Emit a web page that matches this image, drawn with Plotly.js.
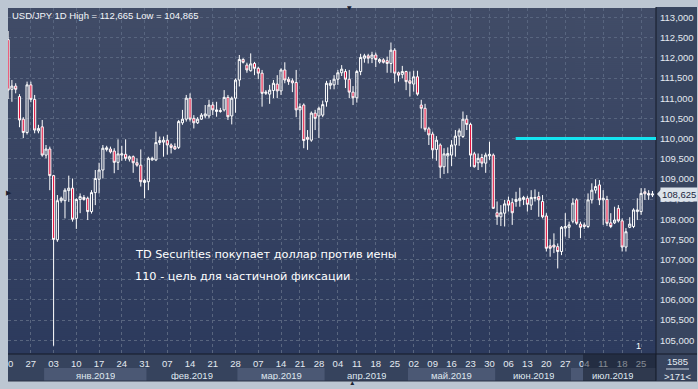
<!DOCTYPE html>
<html><head><meta charset="utf-8">
<script src="https://cdn.plot.ly/plotly-3.0.1.min.js"></script>
<style>html,body{margin:0;padding:0;background:#bcc6d2;overflow:hidden}#chart{width:698px;height:389px}</style>
</head><body><div id="chart"></div>
<script>
// ---- data (USD/JPY daily candles) ----
const opens = [112.45,111.22,111.30,111.04,110.48,110.15,111.33,110.97,110.19,110.29,109.59,109.74,109.08,107.49,108.46,108.46,108.71,108.77,108.02,108.49,108.54,108.52,108.19,108.66,108.99,109.22,109.73,109.74,109.69,109.41,109.59,109.61,109.49,109.55,109.40,109.34,108.91,108.93,109.47,109.47,109.90,109.91,109.96,109.84,109.80,109.78,110.39,110.48,111.00,110.50,110.39,110.48,110.56,110.56,110.83,110.67,110.67,110.71,111.02,110.56,111.00,111.45,111.96,111.82,111.68,111.86,111.74,111.62,111.12,111.10,111.19,111.35,111.18,111.70,111.47,111.43,111.39,110.71,110.83,110.03,109.96,110.63,110.56,110.58,110.91,111.32,111.33,111.47,111.63,111.66,111.47,111.15,111.01,111.66,111.99,112.05,111.99,112.07,111.90,111.95,111.93,111.86,112.19,111.63,111.59,111.66,111.43,111.35,111.53,110.83,110.75,110.24,110.11,109.73,109.84,109.30,109.57,109.59,109.84,110.06,110.05,110.48,110.35,109.62,109.40,109.53,109.39,109.57,109.59,108.16,108.06,108.15,108.46,108.41,108.44,108.46,108.49,108.52,108.35,108.52,108.56,108.44,108.08,107.34,107.36,107.32,107.20,107.78,107.80,107.95,108.48,107.88,107.86,107.82,108.48,108.72,108.85,108.48,108.49,107.91,107.91,108.27,107.96,107.31,107.80,107.82,108.19,108.19,108.68,108.64,108.60];
const highs = [112.665,111.45,111.37,111.10,110.53,111.41,111.41,111.08,110.34,110.46,109.84,109.80,109.10,108.60,108.56,108.77,109.08,109.01,108.52,108.64,108.60,108.56,108.72,109.22,109.40,109.84,109.82,109.80,109.76,109.98,109.82,109.98,109.58,109.58,109.51,109.73,109.00,109.55,109.55,110.17,110.05,110.05,110.09,109.88,109.88,110.46,110.71,111.08,111.12,110.58,110.53,110.63,110.83,110.96,110.91,110.91,110.76,111.20,111.08,111.04,111.49,112.07,111.99,111.88,112.11,111.90,111.78,111.70,111.20,111.33,111.45,111.57,111.74,111.89,111.53,111.49,111.70,110.87,110.87,110.21,110.67,110.71,110.79,110.94,111.43,111.45,111.57,111.70,111.82,111.72,111.70,111.30,111.70,112.10,112.10,112.10,112.15,112.13,111.99,111.99,112.03,112.38,112.24,111.66,111.80,111.68,111.66,111.68,111.68,110.96,110.86,110.29,110.17,110.06,109.88,109.76,109.78,109.96,110.21,110.25,110.67,110.58,110.39,109.67,109.63,109.62,109.65,109.92,109.63,108.44,108.35,108.48,108.56,108.52,108.68,108.78,108.58,108.58,108.72,108.74,108.68,108.60,108.15,107.50,107.65,107.40,107.83,108.15,107.94,108.52,108.52,107.94,107.92,108.64,108.89,108.99,108.97,108.72,108.58,108.15,108.31,108.35,108.02,107.78,108.05,108.27,108.52,108.77,108.77,108.72,108.70];
const lows = [110.98,110.91,111.12,110.28,110.01,110.10,110.90,110.13,110.13,109.55,109.51,108.72,104.865,107.44,108.41,108.02,108.43,107.94,107.76,108.15,108.46,107.98,108.14,108.35,108.64,109.01,109.68,109.63,109.14,109.22,109.45,109.45,109.43,109.15,109.30,108.81,108.52,108.72,109.45,109.44,109.84,109.55,109.60,109.63,109.72,109.74,110.34,110.42,110.42,110.25,110.36,110.46,110.50,110.50,110.58,110.54,110.64,110.67,110.46,110.35,110.64,111.29,111.86,111.63,111.66,111.57,111.47,110.79,111.08,110.86,111.00,111.00,111.08,111.37,111.33,111.15,110.53,110.21,109.76,109.72,109.92,110.21,110.01,110.53,110.79,111.22,111.22,111.33,111.55,111.25,111.00,110.83,110.89,111.57,111.88,111.86,111.87,111.77,111.86,111.86,111.63,111.63,111.37,111.41,111.49,111.20,111.04,111.16,111.06,110.25,110.17,109.84,109.50,109.45,109.02,109.12,109.14,109.32,109.55,109.82,110.01,110.21,109.30,109.28,109.22,109.29,109.15,109.47,108.26,107.86,107.83,107.82,108.19,107.86,108.31,108.31,108.35,108.19,108.23,108.44,108.06,108.02,107.20,107.07,107.16,106.78,107.11,107.57,107.53,107.90,107.86,107.53,107.76,107.78,108.39,108.64,108.35,107.86,107.83,107.78,107.88,107.92,107.20,107.20,107.78,107.78,107.98,108.11,108.48,108.48,108.55];
const closes = [111.20,111.30,111.22,110.46,110.15,111.33,110.97,110.21,110.25,109.59,109.74,109.08,107.50,108.46,108.52,108.72,108.77,108.00,108.49,108.56,108.49,108.19,108.66,109.01,109.22,109.76,109.77,109.67,109.41,109.62,109.62,109.51,109.55,109.40,109.34,108.93,108.96,109.51,109.51,109.90,109.95,109.96,109.84,109.78,109.74,110.42,110.48,111.00,110.48,110.39,110.48,110.58,110.61,110.83,110.71,110.71,110.69,111.02,110.54,111.00,111.45,111.96,111.89,111.70,111.85,111.74,111.62,111.12,111.15,111.20,111.37,111.18,111.70,111.45,111.41,111.38,110.71,110.79,109.95,109.98,110.63,110.50,110.75,110.84,111.37,111.37,111.47,111.63,111.72,111.47,111.15,111.01,111.66,112.01,112.05,111.99,112.07,111.96,111.96,111.89,111.86,112.19,111.62,111.57,111.66,111.41,111.37,111.53,111.10,110.75,110.23,110.09,109.72,109.96,109.29,109.62,109.63,109.84,110.06,110.19,110.48,110.35,109.59,109.30,109.51,109.39,109.59,109.61,108.27,108.06,108.16,108.38,108.35,108.16,108.49,108.52,108.54,108.37,108.54,108.54,108.48,108.06,107.28,107.28,107.31,107.20,107.80,107.82,107.86,108.40,107.90,107.80,107.82,108.48,108.72,108.81,108.48,108.52,107.90,107.82,107.98,107.96,107.31,107.69,107.88,108.23,108.23,108.64,108.63,108.60,108.625];

// categories: trading days (feed had Sunday sessions until the DST switch)
function tradingDays(){
  const out=[]; const end=Date.UTC(2019,6,30); const cut=Date.UTC(2019,2,10);
  for(let t=Date.UTC(2018,11,20); t<=end; t+=86400000){
    const wd=new Date(t).getUTCDay();
    if(wd===6) continue; if(wd===0 && t>cut) continue;
    out.push(new Date(t).toISOString().slice(0,10));
  }
  return out;
}
const dates = tradingDays();

const xTickDates = ['2018-12-20','2018-12-27','2019-01-03','2019-01-10','2019-01-17','2019-01-24','2019-01-31','2019-02-07','2019-02-14','2019-02-21','2019-02-28','2019-03-07','2019-03-14','2019-03-21','2019-03-28','2019-04-04','2019-04-11','2019-04-18','2019-04-25','2019-05-02','2019-05-09','2019-05-16','2019-05-23','2019-05-30','2019-06-06','2019-06-13','2019-06-20','2019-06-27','2019-07-04','2019-07-11','2019-07-18','2019-07-25'];
const xTickText = ['\u20070','27','03','10','17','24','31','07','14','21','28','07','14','21','28','04','11','18','25','02','09','16','23','30','06','13','20','27','04','11','18','25'];
const monthNames = ['янв.2019','фев.2019','мар.2019','апр.2019','май.2019','июн.2019','июл.2019'];
const monthStarts = ['2019-01-01','2019-02-01','2019-03-01','2019-04-01','2019-05-01','2019-06-03','2019-07-01'];
const yTickVals = [105,105.5,106,106.5,107,107.5,108,108.5,109,109.5,110,110.5,111,111.5,112,112.5,113];
const yTickText = ['105,000','105,500','106,000','106,500','107,000','107,500','108,000','108,500','109,000','109,500','110,000','110,500','111,000','111,500','112,000','112,500','113,000'];
const titleText = 'USD/JPY 1D High = 112,665 Low = 104,865';
const noteLines = ['TD Securities покупает доллар против иены','110 - цель для частичной фиксации'];
const targetLevel = 110.0, targetFrom = '2019-06-10';
const lastPrice = '108,625', lastValue = 108.625;
const barsInfo = ['1585','>171<'];

// ---- layout geometry (pixels of the 698x389 picture) ----
const W=698,H=389, L=8, R=656, T=8, B=354;
const px = p => (p-L)/(R-L), py = q => (B-q)/(B-T);

// vertical gradient for plot background
const cv=document.createElement('canvas'); cv.width=4; cv.height=346;
const cx=cv.getContext('2d'); const g=cx.createLinearGradient(0,0,0,346);
g.addColorStop(0,'#414c67'); g.addColorStop(1,'#2c3a5d'); cx.fillStyle=g; cx.fillRect(0,0,4,346);
const bgURL=cv.toDataURL();

const trace = {
  type:'candlestick', x:dates, open:opens, high:highs, low:lows, close:closes,
  increasing:{line:{color:'#ffffff',width:1},fillcolor:'rgba(0,0,0,0)'},
  decreasing:{line:{color:'#ffffff',width:1},fillcolor:'#e3143f'},
  whiskerwidth:0, hoverinfo:'skip', showlegend:false
};

const shapes=[], annotations=[];
const paperRect=(x0,x1,y0,y1,fill,layer)=>({type:'rect',xref:'paper',yref:'paper',x0:px(x0),x1:px(x1),y0:py(y1),y1:py(y0),fillcolor:fill,line:{width:0},layer:layer||'below'});
// right price panel & bottom date panel
shapes.push(paperRect(R,697,7,381,'#38455f'));
shapes.push(paperRect(L,R,B,381,'#36435d'));
// month bands
const mIdx = monthStarts.map(d=>dates.indexOf(d));
mIdx.forEach((s,k)=>{
  const e = k<mIdx.length-1 ? mIdx[k+1] : dates.length+2;
  if(k%2===0) shapes.push({type:'rect',xref:'x',yref:'paper',x0:s-0.5,x1:e-0.5,y0:py(381),y1:py(368),fillcolor:'#4b5874',line:{width:0},layer:'below'});
  const ce = Math.min(e-0.5, dates.length-0.1);
  annotations.push({xref:'x',yref:'paper',x:(s-0.5+ce)/2,y:py(375),text:monthNames[k],showarrow:false,xanchor:'center',yanchor:'middle',height:10,borderpad:0,font:{family:'Liberation Sans, Arial',size:9.5,color:'#dfe6ee'}});
});
// frame lines
shapes.push({type:'line',xref:'paper',yref:'paper',x0:px(R),x1:px(R),y0:py(381),y1:py(7),line:{color:'#151b29',width:1},layer:'above'});
shapes.push({type:'line',xref:'paper',yref:'paper',x0:px(L),x1:px(697),y0:py(B),y1:py(B),line:{color:'#151b29',width:1},layer:'above'});
shapes.push({type:'line',xref:'paper',yref:'paper',x0:px(L),x1:px(697),y0:py(381),y1:py(381),line:{color:'#2a3346',width:1},layer:'above'});
shapes.push({type:'line',xref:'paper',yref:'paper',x0:px(666),x1:px(689),y0:py(369),y1:py(369),line:{color:'#c9d2de',width:1},layer:'above'});
// dimmed area at the end of the date scale
shapes.push(paperRect(583,R,B+0.5,381,'rgba(14,20,34,0.45)','above'));
// target level
const tIdx = dates.indexOf(targetFrom)-0.1;
shapes.push({type:'line',xref:'x',yref:'y',x0:tIdx,x1:dates.length+1,y0:targetLevel,y1:targetLevel,line:{color:'#14e3f0',width:3},layer:'above'});
// pointer of the last-price box
shapes.push({type:'path',xref:'paper',yref:'y',path:'M '+px(R+1)+' '+lastValue+' L '+px(R+5)+' '+(lastValue+0.11)+' L '+px(R+5)+' '+(lastValue-0.11)+' Z',fillcolor:'#dce3eb',line:{width:0},layer:'above'});

annotations.push({xref:'paper',yref:'paper',x:px(10),y:py(15.5),text:titleText,showarrow:false,xanchor:'left',yanchor:'middle',font:{family:'Liberation Sans, Arial',size:9.5,color:'#f2f5f9'}});
annotations.push({xref:'paper',yref:'paper',x:px(133),y:py(254),text:noteLines[0],showarrow:false,xanchor:'left',yanchor:'middle',font:{family:'DejaVu Sans',size:11.3,color:'#ffffff'}});
annotations.push({xref:'paper',yref:'paper',x:px(133),y:py(276),text:noteLines[1],showarrow:false,xanchor:'left',yanchor:'middle',font:{family:'DejaVu Sans',size:11.3,color:'#ffffff'}});
annotations.push({xref:'paper',yref:'y',x:px(R+4),y:lastValue,text:lastPrice,showarrow:false,xanchor:'left',yanchor:'middle',bgcolor:'#dce3eb',borderpad:1,font:{family:'Liberation Sans, Arial',size:9.5,color:'#1b2740'}});
annotations.push({xref:'paper',yref:'paper',x:px(677),y:py(361),text:barsInfo[0],showarrow:false,xanchor:'center',yanchor:'middle',font:{family:'Liberation Sans, Arial',size:9.5,color:'#e4eaf1'}});
annotations.push({xref:'paper',yref:'paper',x:px(677),y:py(376.5),text:barsInfo[1],showarrow:false,xanchor:'center',yanchor:'middle',font:{family:'Liberation Sans, Arial',size:9.5,color:'#e4eaf1'}});
annotations.push({xref:'paper',yref:'paper',x:px(638),y:py(346),text:'1',showarrow:false,xanchor:'center',yanchor:'middle',font:{family:'Liberation Sans, Arial',size:9,color:'#ffffff'}});
annotations.push({xref:'paper',yref:'paper',x:px(349),y:py(3),text:'▼',showarrow:false,height:6,borderpad:0,font:{family:'DejaVu Sans',size:6,color:'#1c2333'}});
annotations.push({xref:'paper',yref:'paper',x:px(352),y:py(386),text:'▲',showarrow:false,height:5,borderpad:0,font:{family:'DejaVu Sans',size:6,color:'#1c2333'}});
annotations.push({xref:'paper',yref:'paper',x:px(3.5),y:py(193),text:'▶',showarrow:false,font:{family:'DejaVu Sans',size:7,color:'#1c2333'}});

const layout = {
  width:W, height:H, margin:{l:L,r:W-R,t:T,b:H-B,pad:0},
  paper_bgcolor:'#bcc6d2', plot_bgcolor:'#37445f', showlegend:false,
  boxgap:0.2, boxgroupgap:0.3,
  images:[{source:bgURL,xref:'paper',yref:'paper',x:0,y:1,sizex:1,sizey:1,sizing:'stretch',xanchor:'left',yanchor:'top',layer:'below'}],
  xaxis:{type:'category',range:[-0.03,dates.length-0.07],rangeslider:{visible:false},
    tickmode:'array',tickvals:xTickDates,ticktext:xTickText,ticks:'',showline:false,zeroline:false,
    showgrid:true,gridcolor:'#58657f',griddash:'3px,3px',gridwidth:1,
    tickfont:{family:'Liberation Sans, Arial',size:9.5,color:'#e4eaf1'},tickangle:0,ticklabelstandoff:2,fixedrange:true},
  yaxis:{side:'right',range:[104.66,113.235],tickmode:'array',tickvals:yTickVals,ticktext:yTickText,ticks:'',
    showline:false,zeroline:false,showgrid:true,gridcolor:'#58657f',griddash:'3px,3px',gridwidth:1,
    tickfont:{family:'Liberation Sans, Arial',size:9.5,color:'#e4eaf1'},ticklabelstandoff:3,fixedrange:true},
  shapes:shapes, annotations:annotations
};
Plotly.newPlot('chart',[trace],layout,{displayModeBar:false,staticPlot:true});
</script></body></html>
